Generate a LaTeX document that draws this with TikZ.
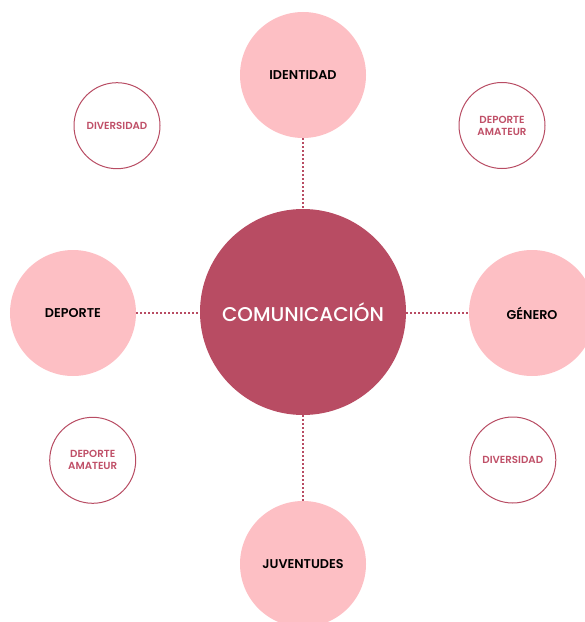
\documentclass[tikz,border=0pt]{standalone}
\usepackage{fontspec}
\setmainfont{Poppins}
\newfontfamily\popmed{Poppins Medium}
\newfontfamily\popsemi{Poppins SemiBold}
\definecolor{rose}{HTML}{B84C63}
\definecolor{rosetext}{HTML}{C05068}
\definecolor{pinkfill}{HTML}{FDBFC4}
\tikzset{
  x=1bp, y=-1bp,
  hub/.style={circle, fill=rose, minimum size=206bp, inner sep=0pt, text=white, font=\popmed\fontsize{20}{22}\selectfont},
  major/.style={circle, fill=pinkfill, minimum size=126bp, inner sep=0pt, text=black, font=\popsemi\fontsize{12.8}{14}\selectfont},
  minor/.style={circle, draw=rose, line width=1bp, fill=white, minimum size=86bp, inner sep=0pt, text=rosetext, align=center, font=\popsemi\fontsize{10.3}{12}\selectfont},
  link/.style={draw=rose, line width=2bp, dash pattern=on 2bp off 2bp}
}
\begin{document}
\begin{tikzpicture}
\useasboundingbox (0,0) rectangle (585,622);
\clip (0,0) rectangle (585,622);
\node[hub] (c) at (303,312) {COMUNICACIÓN};
\node[major] (id) at (303,75) {IDENTIDAD};
\node[major] (dep) at (73,313) {DEPORTE};
\node[major] (gen) at (532,313) {GÉNERO};
\node[major] (juv) at (303,564) {JUVENTUDES};
\node[minor] (d1) at (117,125.7) {DIVERSIDAD};
\node[minor] (a1) at (502,125.5) {DEPORTE\\AMATEUR};
\node[minor] (a2) at (92.7,460.3) {DEPORTE\\AMATEUR};
\node[minor] (d2) at (512.8,460) {DIVERSIDAD};
\draw[link] (id.south) -- (c.north);
\draw[link] (c.south) -- (juv.north);
\draw[link] (dep.east) -- (dep.east -| c.west);
\draw[link] (gen.west -| c.east) -- (gen.west);
\end{tikzpicture}
\end{document}
